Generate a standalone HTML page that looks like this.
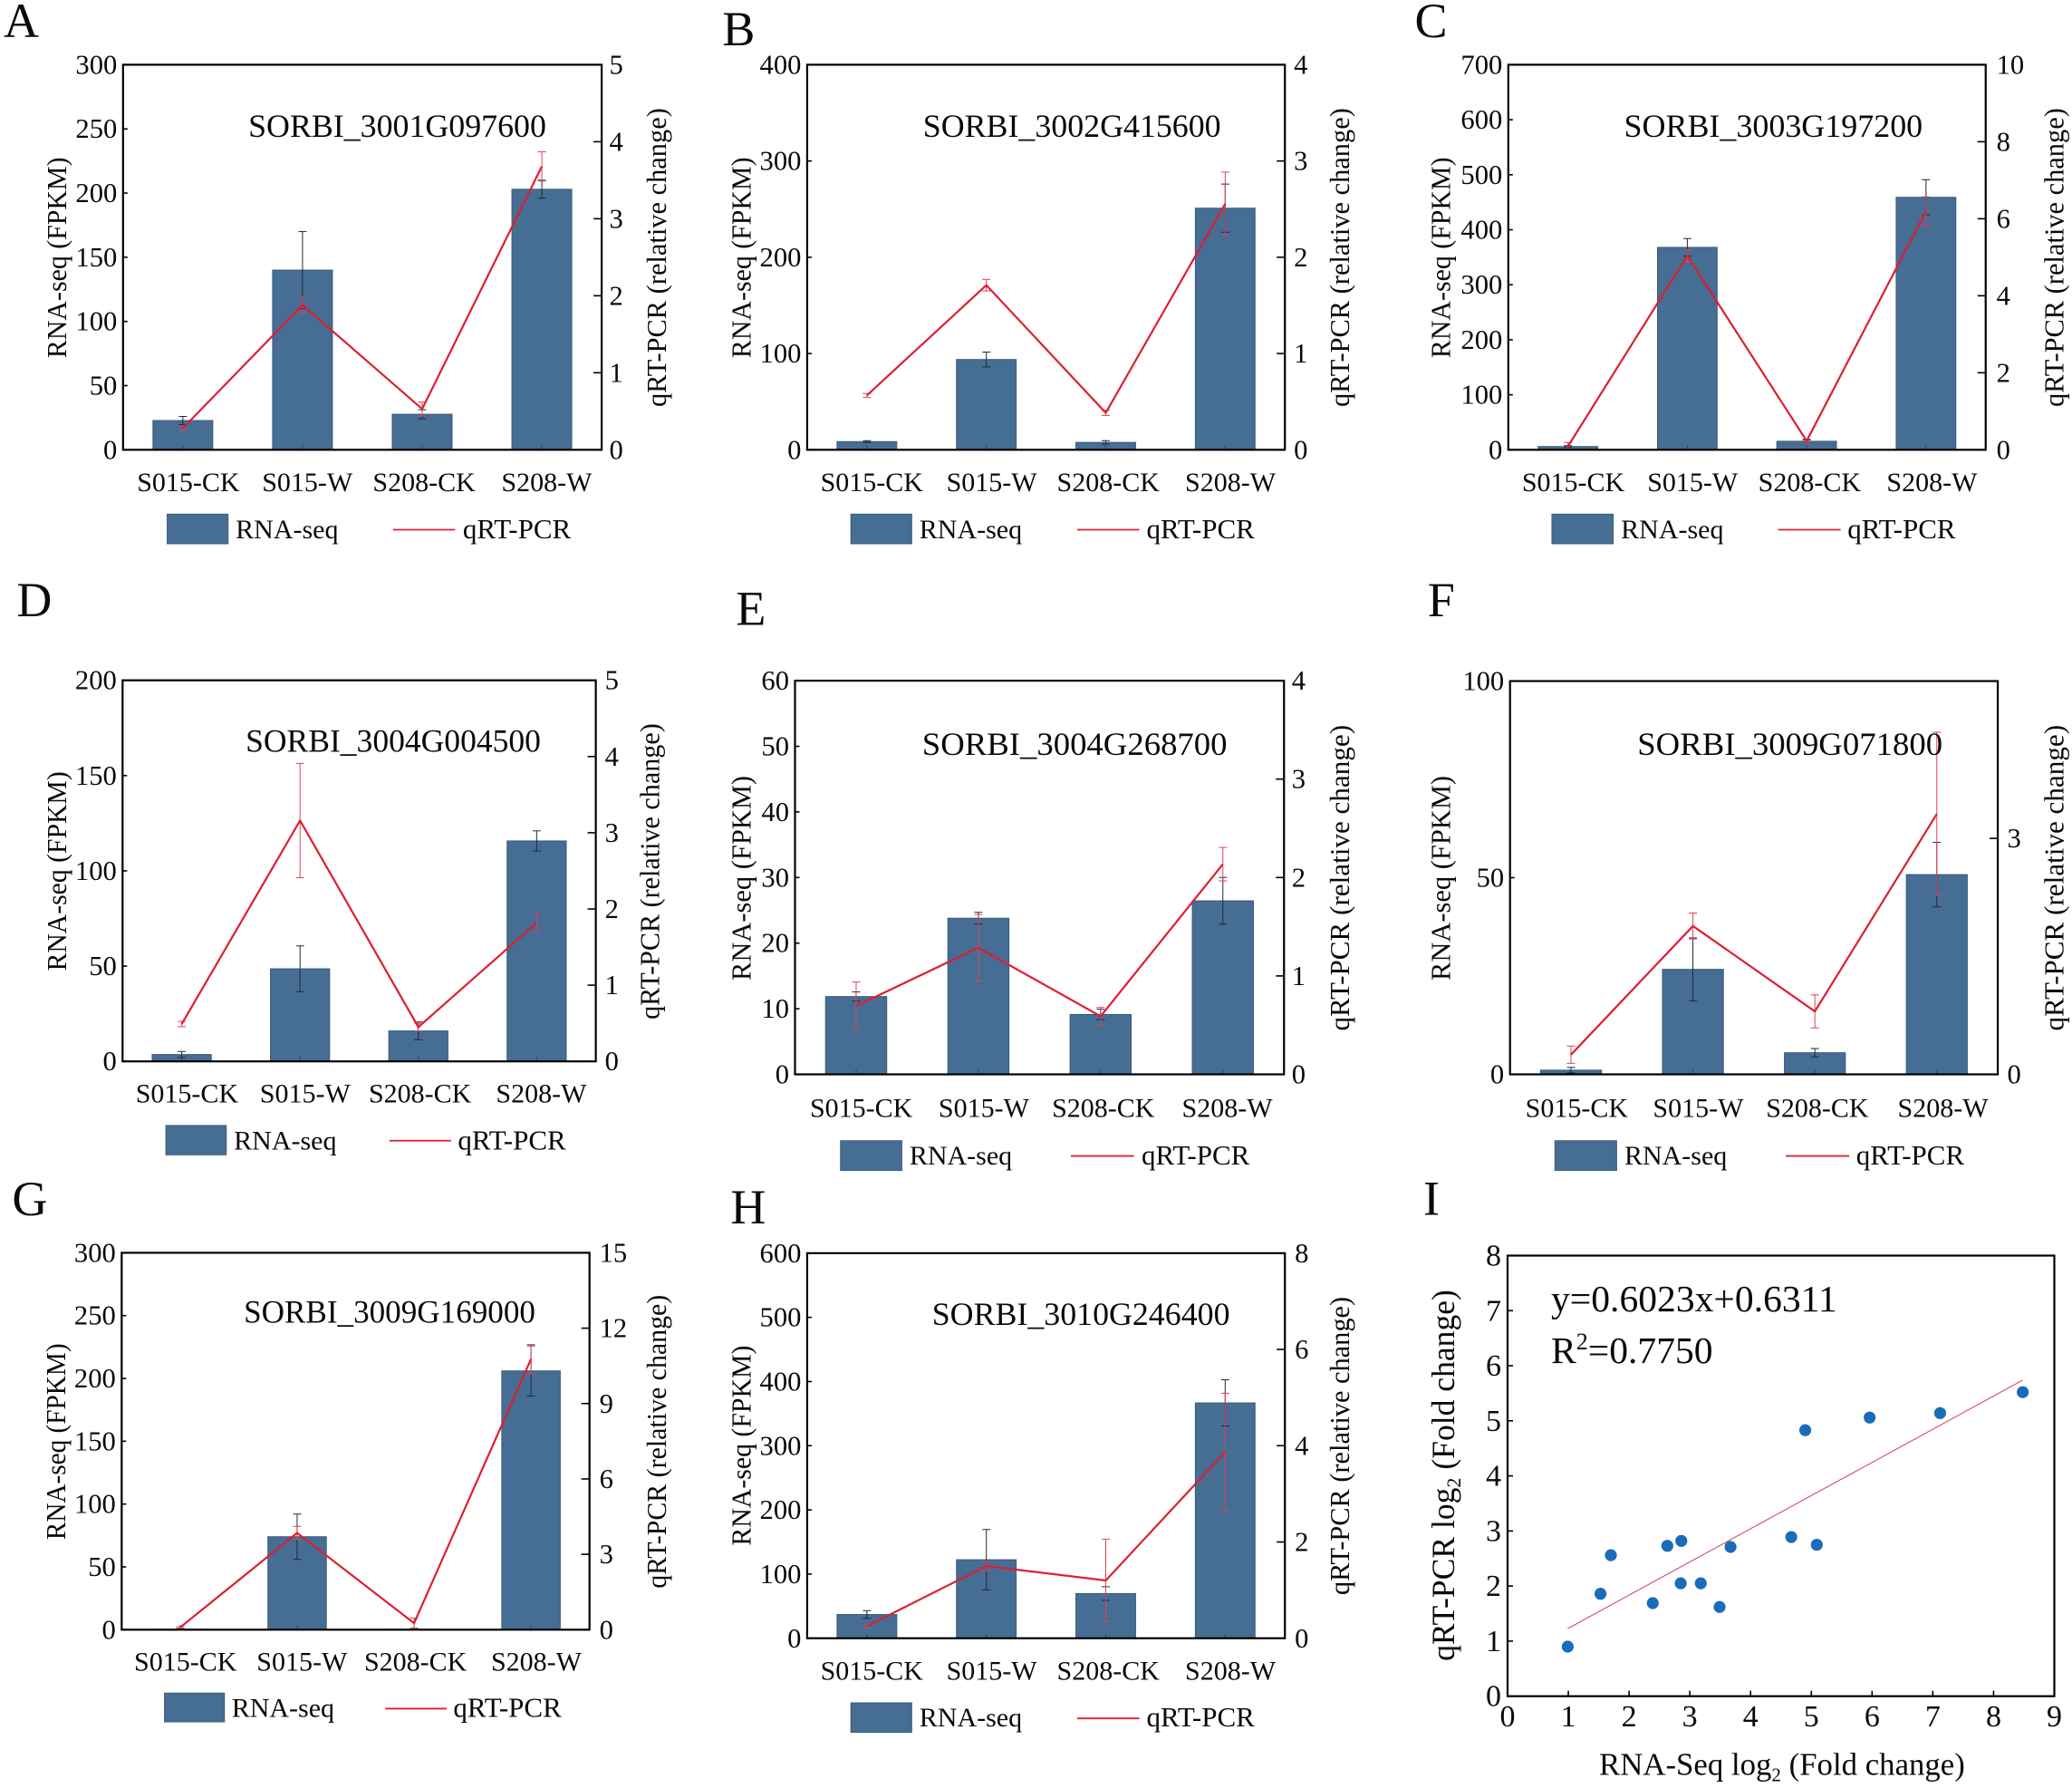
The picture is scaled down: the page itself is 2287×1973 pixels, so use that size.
<!DOCTYPE html>
<html lang="en">
<head>
<meta charset="utf-8">
<title>RNA-seq and qRT-PCR validation panels</title>
<style>
html,body{margin:0;padding:0;background:#fff;}
svg{display:block;}
text{font-family:"Liberation Serif",serif;fill:#0a0a0a;}
</style>
</head>
<body>
<svg id="figure" xmlns="http://www.w3.org/2000/svg" width="2287" height="1973" viewBox="0 0 2287 1973">
<rect width="2287" height="1973" fill="#ffffff"/>
<g id="panels"></g>
<g id="scatter">
<text x="1571" y="1340.5" font-size="54">I</text>
<text x="1712" y="1447" font-size="41.6">y=0.6023x+0.6311</text>
<text x="1712" y="1504" font-size="41.6">R<tspan dy="-15" font-size="26">2</tspan><tspan dy="15">=0.7750</tspan></text>
<text x="1765" y="1958.5" font-size="34.8">RNA-Seq log<tspan dy="7" font-size="21">2</tspan><tspan dy="-7"> (Fold change)</tspan></text>
<text transform="translate(1605,1628) rotate(-90)" text-anchor="middle" font-size="35.6">qRT-PCR log<tspan dy="7" font-size="22">2</tspan><tspan dy="-7"> (Fold change)</tspan></text>
</g>
</svg>
<script>
// shared categories
const categories = ['S015-CK', 'S015-W', 'S208-CK', 'S208-W'];

// panel A
const geneA = 'SORBI_3001G097600';
const rnaA = [22.8, 140, 27.7, 203];
const rnaErrA = [3.2, 30, 3.5, 7];
const qpcrA = [0.28, 1.88, 0.53, 3.68];
const qpcrErrA = [0.03, 0.10, 0.09, 0.19];
const leftTicksA = [0, 50, 100, 150, 200, 250, 300];
const rightTicksA = [0, 1, 2, 3, 4, 5];
// panel B
const geneB = 'SORBI_3002G415600';
const rnaB = [8.5, 93.8, 7.7, 251];
const rnaErrB = [1, 7.7, 1.8, 25];
const qpcrB = [0.565, 1.71, 0.384, 2.555];
const qpcrErrB = [0.02, 0.06, 0.027, 0.33];
const leftTicksB = [0, 100, 200, 300, 400];
const rightTicksB = [0, 1, 2, 3, 4];
// panel C
const geneC = 'SORBI_3003G197200';
const rnaC = [6, 368, 15.5, 459];
const rnaErrC = [1.5, 16, 2.5, 32];
const qpcrC = [0.09, 5.04, 0.23, 6.2];
const qpcrErrC = [0.1, 0.16, 0.05, 0.37];
const leftTicksC = [0, 100, 200, 300, 400, 500, 600, 700];
const rightTicksC = [0, 2, 4, 6, 8, 10];
// panel D
const geneD = 'SORBI_3004G004500';
const rnaD = [3.6, 48.6, 16, 115.7];
const rnaErrD = [1.6, 12, 4.7, 5.3];
const qpcrD = [0.49, 3.16, 0.45, 1.82];
const qpcrErrD = [0.035, 0.75, 0.05, 0.12];
const leftTicksD = [0, 50, 100, 150, 200];
const rightTicksD = [0, 1, 2, 3, 4, 5];
// panel E
const geneE = 'SORBI_3004G268700';
const rnaE = [11.86, 23.8, 9.13, 26.45];
const rnaErrE = [0.7, 0.9, 0.8, 3.57];
const qpcrE = [0.694, 1.287, 0.59, 2.136];
const qpcrErrE = [0.244, 0.337, 0.09, 0.17];
const leftTicksE = [0, 10, 20, 30, 40, 50, 60];
const rightTicksE = [0, 1, 2, 3, 4];
// panel F
const geneF = 'SORBI_3009G071800';
const rnaF = [1.07, 26.7, 5.5, 50.8];
const rnaErrF = [0.7, 8, 1.07, 8.2];
const qpcrF = [0.25, 1.886, 0.8, 3.31];
const qpcrErrF = [0.11, 0.165, 0.21, 1.04];
const leftTicksF = [0, 50, 100];
const rightTicksF = [0, 3];
// panel G
const geneG = 'SORBI_3009G169000';
const rnaG = [0.3, 74, 0.3, 206];
const rnaErrG = [0.2, 18, 0.8, 20];
const qpcrG = [0.09, 3.85, 0.26, 10.77];
const qpcrErrG = [0.03, 0.26, 0.2, 0.58];
const leftTicksG = [0, 50, 100, 150, 200, 250, 300];
const rightTicksG = [0, 3, 6, 9, 12, 15];
// panel H
const geneH = 'SORBI_3010G246400';
const rnaH = [37, 122.4, 69.7, 366.7];
const rnaErrH = [6, 47, 10.6, 36];
const qpcrH = [0.25, 1.5, 1.2, 3.87];
const qpcrErrH = [0.03, 0.1, 0.86, 1.22];
const leftTicksH = [0, 100, 200, 300, 400, 500, 600];
const rightTicksH = [0, 2, 4, 6, 8];
// panel I
const scatterX = [0.99, 1.53, 1.70, 2.39, 2.63, 2.85, 2.86, 3.18, 3.49, 3.67, 4.67, 4.90, 5.09, 5.96, 7.12, 8.48];
const scatterY = [0.90, 1.86, 2.56, 1.69, 2.73, 2.05, 2.82, 2.05, 1.62, 2.71, 2.89, 4.83, 2.75, 5.06, 5.14, 5.52];
const fitSlope = [0.6023];
const fitIntercept = [0.6311];
const scatterXTicks = [0, 1, 2, 3, 4, 5, 6, 7, 8, 9];
const scatterYTicks = [0, 1, 2, 3, 4, 5, 6, 7, 8];

// layout (measured on crops: ox/oy crop origin, sx/sy crop scale)
const S = { w780: 1568 / 780, w747: 1568 / 747, h640: 1568 / 640, h660: 1568 / 660, h673: 1568 / 673 };
const layoutA = { id: 'a', ox: 0, oy: 0, sx: S.w780, sy: S.h640, L: 273, R: 1335, T: 175, B: 1216, title: [551, 1212, 370], lx: 147, lt: [425, 968], rx: 1478, rt: [292, 1100], labels: [418, 682, 941, 1213], labelY: 1328, swatch: [371, 506, 1390, 1470], rnaTx: 523, key: [872, 1010, 1432], qTx: 1027, legY: 1455, letter: ['A', 8, 100], rgap: 17 };
const layoutB = { id: 'b', ox: 780, oy: 0, sx: S.w780, sy: S.h640, L: 223, R: 1283, T: 175, B: 1216, title: [480, 1141, 370], lx: 97, lt: [425, 968], rx: 1425, rt: [292, 1100], labels: [366.5, 632.5, 891, 1162], labelY: 1328, swatch: [320, 455, 1390, 1470], rnaTx: 472, key: [822, 960, 1432], qTx: 976, legY: 1455, letter: ['B', 35, 122], rgap: 20 };
const layoutC = { id: 'c', ox: 1540, oy: 0, sx: S.w747, sy: S.h640, L: 262, R: 1368, T: 175, B: 1216, title: [530, 1222, 370], lx: 127, lt: [425, 968], rx: 1548, rt: [292, 1100], labels: [412.5, 689, 960, 1243.5], labelY: 1328, swatch: [363, 505, 1390, 1470], rnaTx: 523, key: [887, 1032, 1432], qTx: 1048, legY: 1455, letter: ['C', 45, 100], rgap: 25 };
const layoutD = { id: 'd', ox: 0, oy: 640, sx: S.w780, sy: S.h660, L: 272, R: 1322, T: 263, B: 1262, title: [545, 1200, 450], lx: 147, lt: [502, 1025], rx: 1462, rt: [376, 1152], labels: [415, 677, 932, 1201], labelY: 1370, swatch: [368, 502, 1430, 1507], rnaTx: 519, key: [864, 1001, 1470], qTx: 1016, legY: 1493, letter: ['D', 37, 95], rgap: 20 };
const layoutE = { id: 'e', ox: 780, oy: 640, sx: S.w780, sy: S.h660, L: 196, R: 1281, T: 264, B: 1296, title: [478, 1155, 458], lx: 97, lt: [513, 1050], rx: 1425, rt: [380, 1182], labels: [343, 615, 880, 1155], labelY: 1408, swatch: [297, 433, 1470, 1548], rnaTx: 450, key: [808, 948, 1510], qTx: 965, legY: 1532, letter: ['E', 65, 118], rgap: 17 };
const layoutF = { id: 'f', ox: 1540, oy: 640, sx: S.w747, sy: S.h660, L: 266, R: 1396, T: 265, B: 1296, title: [561, 1268, 458], lx: 127, lt: [513, 1050], rx: 1548, rt: [380, 1182], labels: [420.5, 702, 978, 1269], labelY: 1408, swatch: [370, 513, 1470, 1548], rnaTx: 531, key: [905, 1052, 1510], qTx: 1068, legY: 1532, letter: ['F', 75, 95], rgap: 22 };
const layoutG = { id: 'g', ox: 0, oy: 1300, sx: S.w780, sy: S.h673, L: 270, R: 1308, T: 192, B: 1161, title: [541, 1188, 372], lx: 145, lt: [425, 930], rx: 1478, rt: [300, 1055], labels: [411.5, 670, 922, 1190], labelY: 1266, swatch: [365, 498, 1324, 1398], rnaTx: 514, key: [855, 991, 1364], qTx: 1006, legY: 1385, letter: ['G', 27, 95], rgap: 22 };
const layoutH = { id: 'h', ox: 780, oy: 1300, sx: S.w780, sy: S.h673, L: 223, R: 1283, T: 193, B: 1183, title: [500, 1161, 377], lx: 97, lt: [430, 945], rx: 1425, rt: [305, 1072], labels: [366.5, 632.5, 891, 1162], labelY: 1290, swatch: [320, 455, 1349, 1425], rnaTx: 472, key: [822, 960, 1389], qTx: 976, legY: 1410, letter: ['H', 53, 116], rgap: 22 };

const NS = 'http://www.w3.org/2000/svg';
const BAR_FILL = '#466d94';
const BAR_EDGE = '#3c5c7c';
const RED = '#dc1f30';
const RED_ERR = '#e24256';
const DARK_ERR = '#1e2a38';

function add(parent, tag, attrs, content) {
  const node = document.createElementNS(NS, tag);
  for (const k in attrs) node.setAttribute(k, attrs[k]);
  if (content !== undefined) node.textContent = content;
  parent.appendChild(node);
  return node;
}

function drawErr(parent, x, yHi, yLo, color) {
  const g = add(parent, 'g', { stroke: color, 'stroke-width': 1, fill: 'none' });
  add(g, 'line', { x1: x, x2: x, y1: yHi, y2: yLo });
  add(g, 'line', { x1: x - 4.5, x2: x + 4.5, y1: yHi, y2: yHi });
  add(g, 'line', { x1: x - 4.5, x2: x + 4.5, y1: yLo, y2: yLo });
  return g;
}

function drawPanel(lay, gene, rna, rnaErr, qpcr, qpcrErr, leftTicks, rightTicks, rightMax) {
  const px = v => lay.ox + v / lay.sx;
  const py = v => lay.oy + v / lay.sy;
  const L = px(lay.L), R = px(lay.R), T = py(lay.T), B = py(lay.B);
  const leftMax = leftTicks[leftTicks.length - 1];
  const yLeft = v => B - (v / leftMax) * (B - T);
  const yRight = v => B - (v / rightMax) * (B - T);
  const step = (R - L) / categories.length;
  const xCat = i => L + (i + 0.5) * step;
  const barW = step * 0.5;

  const panel = add(document.getElementById('panels'), 'g', {});
  
  

  const letter = add(panel, 'text', { x: px(lay.letter[1]), y: py(lay.letter[2]), 'font-size': 54 }, lay.letter[0]);
  
  

  rna.forEach(function (v, i) {
    const bar = add(panel, 'rect', { x: xCat(i) - barW / 2, y: yLeft(v), width: barW, height: B - yLeft(v), fill: BAR_FILL, stroke: BAR_EDGE, 'stroke-width': 1 });
    
    
    const tick = add(panel, 'line', { x1: xCat(i), x2: xCat(i), y1: B, y2: B - 5, stroke: '#2f4a68', 'stroke-width': 1.2 });
    
    
  });

  rna.forEach(function (v, i) {
    const err = drawErr(panel, xCat(i), yLeft(v + rnaErr[i]), yLeft(Math.max(0, v - rnaErr[i])), DARK_ERR);
    
    
  });

  qpcr.forEach(function (v, i) {
    const err = drawErr(panel, xCat(i), yRight(v + qpcrErr[i]), yRight(Math.max(0, v - qpcrErr[i])), RED_ERR);
    
    
  });

  const linePoints = qpcr.map(function (v, i) { return xCat(i) + ',' + yRight(v); }).join(' ');
  const line = add(panel, 'polyline', { points: linePoints, fill: 'none', stroke: RED, 'stroke-width': 2.2, 'stroke-linejoin': 'miter' });
  
  

  const frame = add(panel, 'rect', { x: L, y: T, width: R - L, height: B - T, fill: 'none', stroke: '#000', 'stroke-width': 2.2 });
  
  

  leftTicks.forEach(function (v) {
    const tick = add(panel, 'line', { x1: L, x2: L + 5, y1: yLeft(v), y2: yLeft(v), stroke: '#000', 'stroke-width': 1.6 });
    
    
    const label = add(panel, 'text', { x: L - 6.5, y: yLeft(v) + 10, 'font-size': 30.6, 'text-anchor': 'end' }, String(v));
    
    
  });

  rightTicks.forEach(function (v) {
    const tick = add(panel, 'line', { x1: R, x2: R - 9, y1: yRight(v), y2: yRight(v), stroke: '#000', 'stroke-width': 1.6 });
    
    
    const label = add(panel, 'text', { x: R + lay.rgap / lay.sx, y: yRight(v) + 10, 'font-size': 30.6 }, String(v));
    
    
  });

  categories.forEach(function (name, i) {
    const label = add(panel, 'text', { x: px(lay.labels[i]), y: py(lay.labelY), 'font-size': 30, 'text-anchor': 'middle' }, name);
    
    
  });

  const titleWidth = (lay.title[1] - lay.title[0]) / lay.sx;
  const title = add(panel, 'text', { x: px(lay.title[0]), y: py(lay.title[2]), 'font-size': 36, textLength: titleWidth, lengthAdjust: 'spacingAndGlyphs' }, gene);
  
  

  const ltY = py((lay.lt[0] + lay.lt[1]) / 2);
  const ltLen = (lay.lt[1] - lay.lt[0]) / lay.sy;
  const leftTitle = add(panel, 'text', { transform: 'translate(' + px(lay.lx) + ',' + ltY + ') rotate(-90)', 'font-size': 31, 'text-anchor': 'middle', textLength: ltLen, lengthAdjust: 'spacingAndGlyphs' }, 'RNA-seq (FPKM)');
  
  

  const rtY = py((lay.rt[0] + lay.rt[1]) / 2);
  const rtLen = (lay.rt[1] - lay.rt[0]) / lay.sy;
  const rightTitle = add(panel, 'text', { transform: 'translate(' + px(lay.rx) + ',' + rtY + ') rotate(-90)', 'font-size': 31, 'text-anchor': 'middle', textLength: rtLen, lengthAdjust: 'spacingAndGlyphs' }, 'qRT-PCR (relative change)');
  
  

  const swatch = add(panel, 'rect', { x: px(lay.swatch[0]), y: py(lay.swatch[2]), width: (lay.swatch[1] - lay.swatch[0]) / lay.sx, height: (lay.swatch[3] - lay.swatch[2]) / lay.sy, fill: BAR_FILL, stroke: BAR_EDGE, 'stroke-width': 1 });
  
  
  const rnaText = add(panel, 'text', { x: px(lay.rnaTx), y: py(lay.legY), 'font-size': 30 }, 'RNA-seq');
  
  
  const keyLine = add(panel, 'line', { x1: px(lay.key[0]), x2: px(lay.key[1]), y1: py(lay.key[2]), y2: py(lay.key[2]), stroke: RED, 'stroke-width': 1.8 });
  
  
  const qText = add(panel, 'text', { x: px(lay.qTx), y: py(lay.legY), 'font-size': 31 }, 'qRT-PCR');
  
  
}

drawPanel(layoutA, geneA, rnaA, rnaErrA, qpcrA, qpcrErrA, leftTicksA, rightTicksA, 5);
drawPanel(layoutB, geneB, rnaB, rnaErrB, qpcrB, qpcrErrB, leftTicksB, rightTicksB, 4);
drawPanel(layoutC, geneC, rnaC, rnaErrC, qpcrC, qpcrErrC, leftTicksC, rightTicksC, 10);
drawPanel(layoutD, geneD, rnaD, rnaErrD, qpcrD, qpcrErrD, leftTicksD, rightTicksD, 5);
drawPanel(layoutE, geneE, rnaE, rnaErrE, qpcrE, qpcrErrE, leftTicksE, rightTicksE, 4);
drawPanel(layoutF, geneF, rnaF, rnaErrF, qpcrF, qpcrErrF, leftTicksF, rightTicksF, 5);
drawPanel(layoutG, geneG, rnaG, rnaErrG, qpcrG, qpcrErrG, leftTicksG, rightTicksG, 15);
drawPanel(layoutH, geneH, rnaH, rnaErrH, qpcrH, qpcrErrH, leftTicksH, rightTicksH, 8);

// panel I scatter
(function () {
  const root = document.getElementById('scatter');
  const L = 1664, R = 2267.5, T = 1385.5, B = 1871.7;
  const xMax = scatterXTicks[scatterXTicks.length - 1];
  const yMax = scatterYTicks[scatterYTicks.length - 1];
  const xs = v => L + (v / xMax) * (R - L);
  const ys = v => B - (v / yMax) * (B - T);

  const frame = add(root, 'rect', { x: L, y: T, width: R - L, height: B - T, fill: 'none', stroke: '#000', 'stroke-width': 2.2 });
  
  

  scatterXTicks.forEach(function (v) {
    const tick = add(root, 'line', { x1: xs(v), x2: xs(v), y1: B, y2: B - 6, stroke: '#000', 'stroke-width': 1.6 });
    
    
    const label = add(root, 'text', { x: xs(v), y: 1905, 'font-size': 34, 'text-anchor': 'middle' }, String(v));
    
    
  });

  scatterYTicks.forEach(function (v) {
    const tick = add(root, 'line', { x1: L, x2: L + 6, y1: ys(v), y2: ys(v), stroke: '#000', 'stroke-width': 1.6 });
    
    
    const label = add(root, 'text', { x: L - 7, y: ys(v) + 11, 'font-size': 34, 'text-anchor': 'end' }, String(v));
    
    
  });

  const xLo = Math.min.apply(null, scatterX);
  const xHi = Math.max.apply(null, scatterX);
  const fit = add(root, 'line', { x1: xs(xLo), y1: ys(fitSlope[0] * xLo + fitIntercept[0]), x2: xs(xHi), y2: ys(fitSlope[0] * xHi + fitIntercept[0]), stroke: '#dc4a62', 'stroke-width': 1.1 });
  
  

  scatterX.forEach(function (v, i) {
    const dot = add(root, 'circle', { cx: xs(v), cy: ys(scatterY[i]), r: 6.6, fill: '#1a6cb8' });
    
    
  });
})();
</script>
</body>
</html>
